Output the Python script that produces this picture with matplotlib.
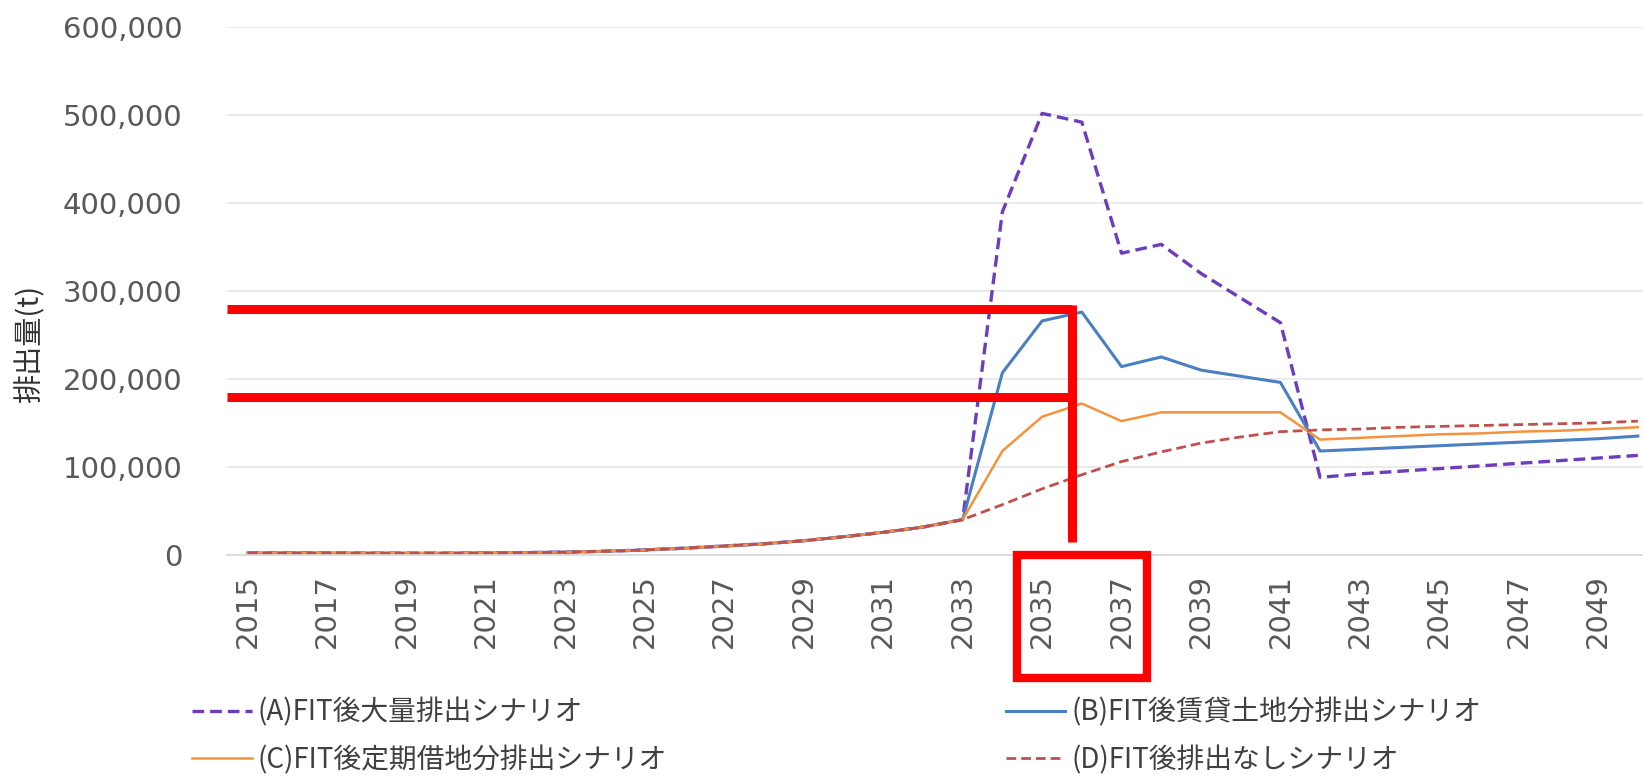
import numpy as np
import matplotlib
matplotlib.use("Agg")
import matplotlib.pyplot as plt
import matplotlib.transforms as mtransforms
from matplotlib.patches import Rectangle
from matplotlib.ticker import FuncFormatter

plt.rcParams['font.family'] = ['Noto Sans CJK JP', 'DejaVu Sans']

# Colors
purple = '#6E3CBC'
blue = '#4A7FC1'
orange = '#F5923E'
brick = '#C0504D'
gray_text = '#595959'

# Data
years = list(range(2015, 2051))
common = [2000, 2000, 2000, 1800, 1800, 1800, 2000, 2500, 3000, 4000,
          5500, 7500, 10000, 12500, 16000, 20500, 25500, 31500, 40000]
a_tail = [390000, 502000, 492000, 343000, 353000, 320000, 292000, 264000, 88000,
          92000, 95000, 98000, 101000, 104000, 107000, 110000, 113000]
b_tail = [207000, 266000, 276000, 214000, 225000, 210000, 203000, 196000, 118000,
          120000, 122000, 124000, 126000, 128000, 130000, 132000, 135000]
c_tail = [118000, 157000, 172000, 152000, 162000, 162000, 162000, 162000, 131000,
          133000, 135000, 137000, 138000, 140000, 141000, 143000, 145000]
d_tail = [57000, 75000, 91000, 106000, 117000, 127000, 134000, 140000, 142000,
          143000, 145000, 146000, 147000, 148000, 149000, 150000, 152000]
scen_a = common + a_tail
scen_b = common + b_tail
scen_c = common + c_tail
scen_d = common + d_tail

labels = ['(A)FIT後大量排出シナリオ', '(B)FIT後賃貸土地分排出シナリオ',
          '(C)FIT後定期借地分排出シナリオ', '(D)FIT後排出なしシナリオ']

# Annotation values (red marks)
mark_levels = [280000, 180000]
mark_year = 2035.76
mark_bottom = 14000
box_years = (2034.37, 2037.65)

fig = plt.figure(figsize=(16.43, 7.77), dpi=100)
ax = fig.add_axes([0.138, 0.286, 0.862, 0.679])

la, = ax.plot(years, scen_a, color=purple, linewidth=2.4, dashes=(3.5, 1.8))
lb, = ax.plot(years, scen_b, color=blue, linewidth=2.2)
lc, = ax.plot(years, scen_c, color=orange, linewidth=1.8)
ld, = ax.plot(years, scen_d, color=brick, linewidth=2.0, dashes=(3.5, 1.8))

# Red highlight lines
for lv in mark_levels:
    ax.plot([2014.47, mark_year], [lv, lv], color='#FF0000', linewidth=6.5,
            solid_capstyle='butt', zorder=5)
ax.plot([mark_year, mark_year], [mark_bottom, mark_levels[0] + 3500], color='#FF0000',
        linewidth=6.5, solid_capstyle='butt', zorder=5)
trans = mtransforms.blended_transform_factory(ax.transData, ax.transAxes)
ax.add_patch(Rectangle((box_years[0], -0.233), box_years[1] - box_years[0], 0.233,
                       transform=trans, fill=False, edgecolor='#FF0000', linewidth=6,
                       clip_on=False, zorder=6))

ax.set_xlim(2014.47, 2050.13)
ax.set_ylim(0, 600000)
ax.set_yticks(np.arange(0, 600001, 100000))
ax.yaxis.set_major_formatter(FuncFormatter(lambda v, p: f'{int(v):,}'))
ax.set_xticks(years[::2])
ax.set_xticklabels([str(y) for y in years[::2]], rotation=90)
for t in ax.get_xticklabels() + ax.get_yticklabels():
    t.set_family('DejaVu Sans')

ax.grid(True, axis='y', color='#E6E6E6', linewidth=1.2)
for s in ['top', 'right', 'left']:
    ax.spines[s].set_visible(False)
ax.spines['bottom'].set_color('#D9D9D9')
ax.spines['bottom'].set_linewidth(1.2)
ax.tick_params(axis='both', length=0, colors=gray_text, labelsize=21)
ax.tick_params(axis='y', pad=32)
ax.tick_params(axis='x', pad=14)
ax.set_ylabel('排出量(t)', fontsize=21, color='#333333')
ax.yaxis.set_label_coords(-0.128, 0.40)

handles = [la, lc, lb, ld]
order = [labels[0], labels[2], labels[1], labels[3]]
fig.legend(handles, order, ncol=2, loc='upper left', bbox_to_anchor=(0.117, 0.102),
           frameon=False, fontsize=20, handlelength=2.15, handletextpad=0.2,
           columnspacing=12.2, labelspacing=0.62, borderpad=0.0, borderaxespad=0.0,
           labelcolor='#404040')

fig.savefig('out.png', dpi=100)
